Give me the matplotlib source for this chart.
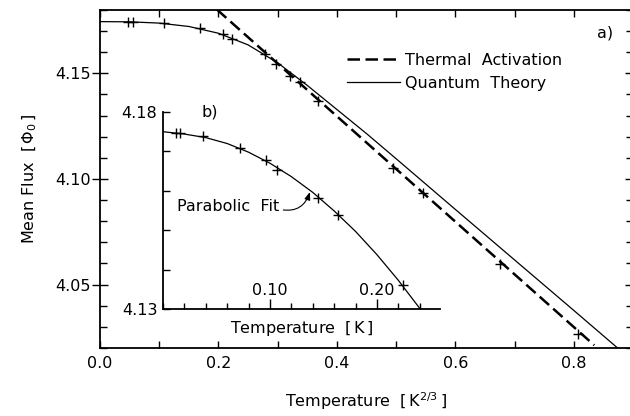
import matplotlib

matplotlib.use("Agg")
import matplotlib.pyplot as plt
from matplotlib.lines import Line2D
from matplotlib.ticker import FixedLocator, MultipleLocator, FormatStrFormatter

# main panel a): mean flux vs T^(2/3)
meas_T = [0.047, 0.056, 0.108, 0.169, 0.2076, 0.2228, 0.2785, 0.297, 0.3207,
          0.3376, 0.368, 0.4945, 0.545, 0.675, 0.8068]
meas_F = [4.1742, 4.1742, 4.1737, 4.1713, 4.1685, 4.1661, 4.1590, 4.1543, 4.1486,
          4.1457, 4.1367, 4.1054, 4.0936, 4.0599, 4.0268]

thermal_T = [0.1975, 0.8346]
thermal_F = [4.1802, 4.0213]

quantum_T = [0.0, 0.05, 0.10, 0.15, 0.20, 0.25, 0.30, 0.35, 0.40, 0.45, 0.50,
             0.60, 0.70, 0.80, 0.874]
quantum_F = [4.1745, 4.1744, 4.1738, 4.1722, 4.1690, 4.1635, 4.1550, 4.1443,
             4.1329, 4.1215, 4.1096, 4.0856, 4.0617, 4.0378, 4.0200]

# inset b): mean flux vs T in K
inset_T = [0.012, 0.016, 0.0374, 0.072, 0.0963, 0.1065, 0.1449, 0.1636, 0.2243]
inset_F = [4.1747, 4.1747, 4.1739, 4.1709, 4.1678, 4.1653, 4.1582, 4.1539, 4.1361]

fit_T = [0.0, 0.02, 0.04, 0.06, 0.08, 0.10, 0.12, 0.14, 0.16, 0.18, 0.20, 0.22, 0.2405]
fit_F = [4.1750, 4.1744, 4.1735, 4.1720, 4.1698, 4.1670, 4.1636, 4.1596, 4.1549,
         4.1497, 4.1438, 4.1373, 4.1300]

FS = 11.5
plt.rcParams["font.family"] = ["DejaVu Sans"]
plt.rcParams["font.size"] = FS
plt.rcParams["mathtext.fontset"] = "dejavusans"

fig = plt.figure(figsize=(6.30, 4.16), dpi=100)
ax = fig.add_axes([100 / 630, 68 / 416, 533 / 630, 338 / 416])

ax.plot(quantum_T, quantum_F, color="black", lw=0.9)
ax.plot(thermal_T, thermal_F, color="black", lw=1.8, dashes=(5, 2.2))
ax.plot(meas_T, meas_F, ls="none", marker="+", ms=7, mew=1.0, color="black")

ax.set_xlim(0, 0.9)
ax.set_ylim(4.02, 4.18)
ax.xaxis.set_major_locator(MultipleLocator(0.2))
ax.xaxis.set_minor_locator(MultipleLocator(0.1))
ax.yaxis.set_major_locator(FixedLocator([4.05, 4.10, 4.15]))
ax.yaxis.set_minor_locator(MultipleLocator(0.01))
ax.xaxis.set_major_formatter(FormatStrFormatter("%.1f"))
ax.yaxis.set_major_formatter(FormatStrFormatter("%.2f"))
ax.tick_params(axis="x", which="both", direction="in", top=True, length=5, width=1, pad=6)
ax.tick_params(axis="y", which="major", direction="inout", right=True, length=11, width=1, pad=1)
ax.tick_params(axis="y", which="minor", direction="in", right=True, length=5, width=1)
for sp in ax.spines.values():
    sp.set_linewidth(1.3)

ax.set_xlabel(r"Temperature  $\left[\,\mathrm{K}^{2/3}\,\right]$", labelpad=14)
ax.set_ylabel(r"Mean Flux  $\left[\,\Phi_0\,\right]$", labelpad=12)

ax.text((605 - 100) / 533, 1 - 23 / 338, "a)", transform=ax.transAxes,
        ha="center", va="center")

handles = [Line2D([], [], color="black", lw=1.8, dashes=(5, 2.2)),
           Line2D([], [], color="black", lw=0.9)]
ax.legend(handles, ["Thermal  Activation", "Quantum  Theory"], loc="upper left",
          bbox_to_anchor=((347 - 100) / 533, 1 - 43 / 338), frameon=False,
          handlelength=3.3, handletextpad=0.35, labelspacing=0.5, borderpad=0,
          borderaxespad=0)

ins = fig.add_axes([163 / 630, 107 / 416, 277 / 630, 197 / 416])
ins.patch.set_visible(False)
ins.plot(fit_T, fit_F, color="black", lw=0.9)
ins.plot(inset_T, inset_F, ls="none", marker="+", ms=7, mew=1.0, color="black")
ins.set_xlim(0, 0.259)
ins.set_ylim(4.13, 4.18)
ins.spines["top"].set_visible(False)
ins.spines["right"].set_visible(False)
for side in ("left", "bottom"):
    ins.spines[side].set_linewidth(1.3)
ins.xaxis.set_major_locator(FixedLocator([0.10, 0.20]))
ins.xaxis.set_minor_locator(MultipleLocator(0.02))
ins.yaxis.set_major_locator(FixedLocator([4.13, 4.18]))
ins.yaxis.set_minor_locator(MultipleLocator(0.01))
ins.xaxis.set_major_formatter(FormatStrFormatter("%.2f"))
ins.yaxis.set_major_formatter(FormatStrFormatter("%.2f"))
ins.tick_params(axis="x", which="major", direction="in", length=7, width=1, pad=-19)
ins.tick_params(axis="x", which="minor", direction="in", length=4, width=1)
ins.tick_params(axis="y", which="both", direction="in", length=5, width=1, pad=4)
ins.set_xlabel(r"Temperature  $\left[\,\mathrm{K}\,\right]$", labelpad=4)
ins.text((210 - 163) / 277, 1.0, "b)", transform=ins.transAxes, ha="center", va="center")

ins.annotate("Parabolic  Fit", xy=(0.1374, 4.1597), xytext=(0.013, 4.1559),
             ha="left", va="center",
             arrowprops=dict(arrowstyle="-|>,head_length=0.4,head_width=0.15",
                             color="black", lw=0.8, relpos=(1.0, 0.35),
                             shrinkA=1, shrinkB=0,
                             connectionstyle="arc3,rad=0.45"))

fig.savefig("out.png", dpi=100)
